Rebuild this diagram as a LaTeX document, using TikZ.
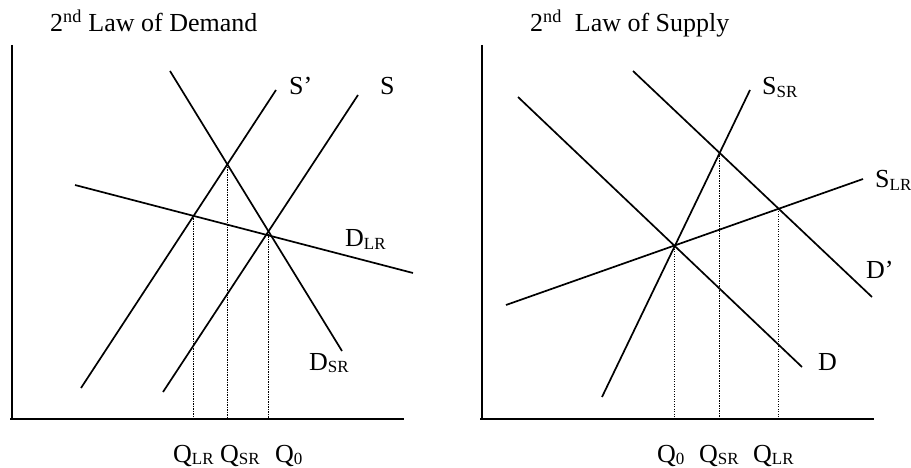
\documentclass[tikz,border=0pt]{standalone}
\usepackage{fontspec}
\setmainfont{Liberation Serif}
\newcommand{\lsub}[1]{\raisebox{-2.5pt}{\fontsize{17}{17}\selectfont #1}}
\begin{document}
\begin{tikzpicture}[x=1pt,y=-1pt,
  curve/.style={line width=1.7pt},
  axisline/.style={line width=2.3pt},
  guide/.style={line width=1.1pt, dash pattern=on 1.2pt off 1.3pt},
  lbl/.style={anchor=base west, inner sep=0pt, font=\fontsize{26}{26}\selectfont}]
\useasboundingbox (0,0) rectangle (911,468);
% ---------- left panel ----------
\coordinate (Lya) at (12,45); \coordinate (Lyb) at (12,420);
\coordinate (Lxa) at (10,419); \coordinate (Lxb) at (404,419);
\coordinate (dsr1) at (170,71); \coordinate (dsr2) at (342,351);
\coordinate (sp1) at (276,90);  \coordinate (sp2) at (81,388);
\coordinate (s1) at (358,95);   \coordinate (s2) at (163,392);
\coordinate (dlr1) at (75,185); \coordinate (dlr2) at (413,273);
\draw[axisline] (Lya) -- (Lyb);
\draw[axisline] (Lxa) -- (Lxb);
\draw[curve] (dsr1) -- (dsr2);
\draw[curve] (sp1) -- (sp2);
\draw[curve] (s1) -- (s2);
\draw[curve] (dlr1) -- (dlr2);
\coordinate (Lqsr) at (intersection of dsr1--dsr2 and sp1--sp2);
\coordinate (Lqlr) at (intersection of dlr1--dlr2 and sp1--sp2);
\coordinate (Lq0) at (intersection of dsr1--dsr2 and s1--s2);
\draw[guide] (Lqsr) -- (Lqsr |- Lxa);
\draw[guide] (Lqlr) -- (Lqlr |- Lxa);
\draw[guide] (Lq0) -- (Lq0 |- Lxa);
\node[lbl] (Ltitle) at (50,32) {2\textsuperscript{nd} Law of Demand};
\node[lbl] (Lsp) at (289,95) {S’};
\node[lbl] (Ls) at (380,95) {S};
\node[lbl] (Ldlr) at (345,247) {D\lsub{LR}};
\node[lbl] (Ldsr) at (309,370) {D\lsub{SR}};
\node[lbl] (LQlr) at (173,462) {Q\lsub{LR}};
\node[lbl] (LQsr) at (220,462) {Q\lsub{SR}};
\node[lbl] (LQ0) at (275,462) {Q\lsub{0}};
% ---------- right panel ----------
\coordinate (Rya) at (482,45); \coordinate (Ryb) at (482,420);
\coordinate (Rxa) at (480,419); \coordinate (Rxb) at (874,419);
\coordinate (d1) at (518,97);   \coordinate (d2) at (802,367);
\coordinate (dp1) at (633,71);  \coordinate (dp2) at (872,297);
\coordinate (ssr1) at (750,90); \coordinate (ssr2) at (602,397);
\coordinate (slr1) at (863,179);\coordinate (slr2) at (506,305);
\draw[axisline] (Rya) -- (Ryb);
\draw[axisline] (Rxa) -- (Rxb);
\draw[curve] (d1) -- (d2);
\draw[curve] (dp1) -- (dp2);
\draw[curve] (ssr1) -- (ssr2);
\draw[curve] (slr1) -- (slr2);
\coordinate (Rq0) at (intersection of d1--d2 and ssr1--ssr2);
\coordinate (Rqsr) at (intersection of dp1--dp2 and ssr1--ssr2);
\coordinate (Rqlr) at (intersection of dp1--dp2 and slr1--slr2);
\draw[guide] (Rq0) -- (Rq0 |- Rxa);
\draw[guide] (Rqsr) -- (Rqsr |- Rxa);
\draw[guide] (Rqlr) -- (Rqlr |- Rxa);
\node[lbl] (Rtitle) at (530,32) {2\textsuperscript{nd}\ \ Law of Supply};
\node[lbl] (Rssr) at (762,95) {S\lsub{SR}};
\node[lbl] (Rslr) at (875,188) {S\lsub{LR}};
\node[lbl] (Rdp) at (866,278) {D’};
\node[lbl] (Rd) at (818,370) {D};
\node[lbl] (RQ0) at (657,462) {Q\lsub{0}};
\node[lbl] (RQsr) at (699,462) {Q\lsub{SR}};
\node[lbl] (RQlr) at (753,462) {Q\lsub{LR}};
\end{tikzpicture}
\end{document}
